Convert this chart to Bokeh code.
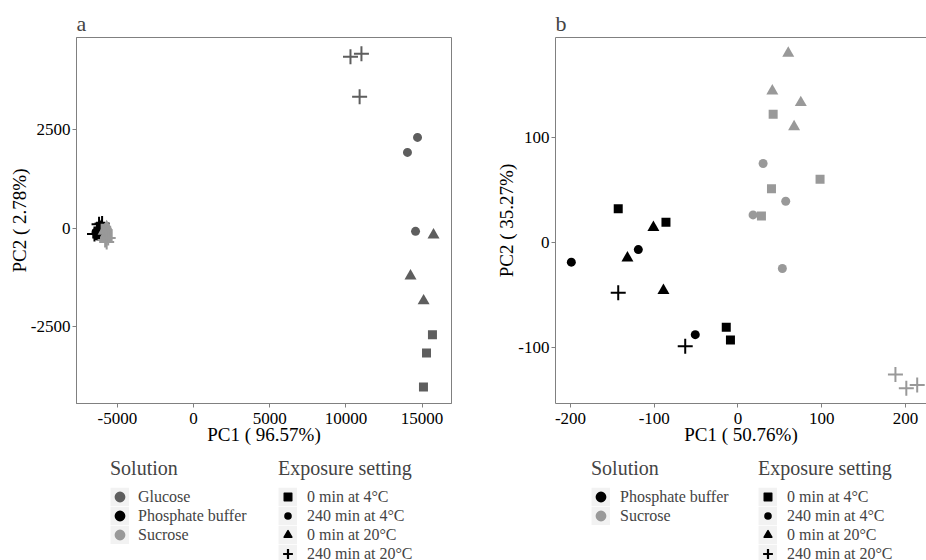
from bokeh.plotting import figure
from bokeh.models import (Range1d, FixedTicker, Legend, LegendItem, LinearAxis,
                          ColumnDataSource)
from bokeh.layouts import row, column
from bokeh.embed import file_html
from bokeh.resources import INLINE

FONT = "Liberation Serif"

# ---------------- data: panel a ----------------
a_solution = (["Glucose"] * 12) + (["Phosphate buffer"] * 12) + (["Sucrose"] * 12)
a_exposure = (["0 min at 4°C"] * 3 + ["240 min at 4°C"] * 3 + ["0 min at 20°C"] * 3 + ["240 min at 20°C"] * 3) * 3
a_pc1 = [15680, 15290, 15090, 14040, 14700, 14570, 15750, 14240, 15100, 10300, 11020, 10900,
         -6100, -6000, -6350, -6400, -6150, -6300, -6050, -6200, -5900, -6500, -6200, -6000,
         -5700, -5600, -5800, -5750, -5650, -5850, -5800, -5700, -5900, -5800, -5700, -5600]
a_pc2 = [-2700, -3160, -4020, 1920, 2300, -80, -170, -1210, -1840, 4340, 4420, 3330,
         50, 0, -150, -100, -50, -200, 60, 20, -20, -150, 100, 120,
         -50, -150, 0, -200, -100, -250, -30, 40, -80, -300, -350, -250]
a_xticks = [-5000, 0, 5000, 10000, 15000]
a_xtick_labels = ["-5000", "0", "5000", "10000", "15000"]
a_yticks = [-2500, 0, 2500]
a_ytick_labels = ["-2500", "0", "2500"]

# ---------------- data: panel b ----------------
b_solution = (["Phosphate buffer"] * 12) + (["Sucrose"] * 15)
b_exposure = (["0 min at 4°C"] * 4 + ["240 min at 4°C"] * 3 + ["0 min at 20°C"] * 3 + ["240 min at 20°C"] * 2
              + ["0 min at 4°C"] * 4 + ["240 min at 4°C"] * 4 + ["0 min at 20°C"] * 4 + ["240 min at 20°C"] * 3)
b_pc1 = [-143, -86, -14, -9, -199, -119, -51, -101, -132, -89, -143, -63,
         42, 98, 40, 28, 30, 57, 18, 53, 60, 41, 75, 67, 188, 201, 214]
b_pc2 = [32, 19, -81, -93, -19, -7, -88, 14, -15, -46, -48, -99,
         122, 60, 51, 25, 75, 39, 26, -25, 180, 144, 133, 110, -126, -139, -136]
b_xticks = [-200, -100, 0, 100, 200]
b_xtick_labels = ["-200", "-100", "0", "100", "200"]
b_yticks = [-100, 0, 100]
b_ytick_labels = ["-100", "0", "100"]

SOL_COLORS = {"Glucose": "#5e5e5e", "Phosphate buffer": "#000000", "Sucrose": "#999999"}
EXPOSURES = ["0 min at 4°C", "240 min at 4°C", "0 min at 20°C", "240 min at 20°C"]
EXPO_MARKER = {"0 min at 4°C": ("square", 9), "240 min at 4°C": ("circle", 9),
               "0 min at 20°C": ("triangle", 12), "240 min at 20°C": ("cross", 15)}
# extra outline used only to enlarge the legend keys
EXPO_KEY_LINE = {"0 min at 4°C": 1.4, "240 min at 4°C": 0.0,
                 "0 min at 20°C": 1.6, "240 min at 20°C": 2.2}
AXIS_GREY = "#808080"
KEY_BG = "#f2f2f2"


def style_axis(ax):
    ax.axis_line_color = AXIS_GREY
    ax.major_tick_line_color = AXIS_GREY
    ax.major_tick_out = 4
    ax.major_tick_in = 0
    ax.minor_tick_line_color = None
    ax.major_label_text_font = FONT
    ax.major_label_text_font_size = "17px"
    ax.major_label_text_color = "#000000"
    ax.axis_label_text_font = FONT
    ax.axis_label_text_font_size = "19px"
    ax.axis_label_text_font_style = "normal"
    ax.axis_label_text_color = "#000000"


def subset(pc1, pc2, sol, expo, s, e):
    xs = [x for x, ss, ee in zip(pc1, sol, expo) if ss == s and ee == e]
    ys = [y for y, ss, ee in zip(pc2, sol, expo) if ss == s and ee == e]
    return xs, ys


def make_panel(letter, pc1, pc2, sol, expo, solutions, xr, yr, xticks, xlabels,
               yticks, ylabels, xlabel, ylabel, border_left, border_right, frame_w, full_box):
    p = figure(frame_width=frame_w, frame_height=366, output_backend="svg",
               toolbar_location=None,
               x_range=Range1d(*xr), y_range=Range1d(*yr),
               min_border_left=border_left, min_border_right=border_right,
               min_border_top=37, min_border_bottom=50)
    p.grid.visible = False
    p.background_fill_color = "white"
    p.border_fill_color = "white"
    p.title.text = letter
    p.title.text_font = FONT
    p.title.text_font_size = "22px"
    p.title.text_font_style = "normal"
    p.title.align = "left"
    p.title.offset = 0
    p.title.standoff = 3

    p.xaxis.ticker = FixedTicker(ticks=xticks)
    p.yaxis.ticker = FixedTicker(ticks=yticks)
    p.xaxis.major_label_overrides = {t: l for t, l in zip(xticks, xlabels)}
    p.yaxis.major_label_overrides = {t: l for t, l in zip(yticks, ylabels)}
    p.xaxis.axis_label = xlabel
    p.yaxis.axis_label = ylabel
    for ax in p.xaxis + p.yaxis:
        style_axis(ax)
    p.xaxis.major_label_standoff = 5
    p.xaxis.axis_label_standoff = -3
    p.yaxis.major_label_standoff = 2
    p.yaxis.axis_label_standoff = -2

    if full_box:
        p.outline_line_color = AXIS_GREY
        p.outline_line_width = 1
    else:
        p.outline_line_color = None
        top = LinearAxis(major_tick_line_color=None, minor_tick_line_color=None,
                         major_label_text_font_size="0px", axis_line_color=AXIS_GREY,
                         major_label_standoff=0, major_tick_out=0, major_tick_in=0,
                         ticker=FixedTicker(ticks=[]))
        p.add_layout(top, "above")

    for s in solutions:
        for e in EXPOSURES:
            xs, ys = subset(pc1, pc2, sol, expo, s, e)
            mk, sz = EXPO_MARKER[e]
            c = SOL_COLORS[s]
            src = ColumnDataSource(dict(x=xs, y=ys))
            if mk == "cross":
                p.scatter("x", "y", source=src, marker=mk, size=sz,
                          line_color=c, line_width=2)
            else:
                p.scatter("x", "y", source=src, marker=mk, size=sz,
                          fill_color=c, line_color=None)
    return p


COMMON = dict(padding=0, margin=0, border_line_color=None, background_fill_alpha=0,
              label_text_font=FONT, label_text_font_size="16px",
              label_text_line_height=1.0,
              title_text_font=FONT, title_text_font_size="20px",
              title_text_font_style="normal", title_standoff=7,
              glyph_width=19, glyph_height=19, label_height=19, spacing=0,
              orientation="vertical", location="top_left")


def legend_fig(width, left, title, labels, kind, pc1, pc2, sol, expo, standoff):
    # legend-only figure: its renderers reuse the panel's data but lie outside
    # the visible range (and have size 0), so only their legend keys show
    f = figure(width=width, height=107, output_backend="svg", toolbar_location=None,
               x_axis_location=None, y_axis_location=None, title_location=None,
               x_range=Range1d(0.3, 0.7), y_range=Range1d(0.3, 0.7),
               min_border_left=left, min_border_right=0, min_border_top=4,
               min_border_bottom=0)
    f.grid.visible = False
    f.outline_line_color = None
    items = []
    for lab in labels:
        if kind == "solution":
            s, e = lab, "240 min at 4°C"
        else:
            s, e = "Phosphate buffer", lab
        xs, ys = subset(pc1, pc2, sol, expo, s, e)
        src = ColumnDataSource(dict(x=xs, y=ys))
        # key background: a thick line fills the whole key box in the legend
        bg = f.line("x", "y", source=src, line_color=KEY_BG, line_width=18.5)
        c = SOL_COLORS[s]
        if kind == "solution":
            r = f.scatter("x", "y", source=src, marker="circle", size=0,
                          fill_color=c, line_color=c, line_width=3.2)
        else:
            mk, _ = EXPO_MARKER[lab]
            lw = EXPO_KEY_LINE[lab]
            if mk == "cross":
                r = f.scatter("x", "y", source=src, marker=mk, size=0,
                              line_color="black", line_width=lw, line_cap="square")
            elif lw > 0:
                r = f.scatter("x", "y", source=src, marker=mk, size=0,
                              fill_color="black", line_color="black", line_width=lw,
                              line_join="round")
            else:
                r = f.scatter("x", "y", source=src, marker=mk, size=0,
                              fill_color="black", line_color=None)
        items.append(LegendItem(label=lab, renderers=[bg, r]))
    leg = Legend(items=items, title=title, label_standoff=standoff, **COMMON)
    f.add_layout(leg, "center")
    return f


pa = make_panel("a", a_pc1, a_pc2, a_solution, a_exposure,
                ["Glucose", "Phosphate buffer", "Sucrose"],
                (-7680, 16930), (-4440, 4830), a_xticks, a_xtick_labels,
                a_yticks, a_ytick_labels,
                "PC1 ( 96.57%)", "PC2 ( 2.78%)", 76, 12, 375, True)
pb = make_panel("b", b_pc1, b_pc2, b_solution, b_exposure,
                ["Phosphate buffer", "Sucrose"],
                (-217.9, 225.1), (-153.6, 195.0), b_xticks, b_xtick_labels,
                b_yticks, b_ytick_labels,
                "PC1 ( 50.76%)", "PC2 ( 35.27%)", 92, 0, 371, False)

la1 = legend_fig(270, 110, "Solution", ["Glucose", "Phosphate buffer", "Sucrose"], "solution",
                 a_pc1, a_pc2, a_solution, a_exposure, 9)
la2 = legend_fig(193, 8, "Exposure setting", EXPOSURES, "exposure",
                 a_pc1, a_pc2, a_solution, a_exposure, 10)
lb1 = legend_fig(282, 128, "Solution", ["Phosphate buffer", "Sucrose"], "solution",
                 b_pc1, b_pc2, b_solution, b_exposure, 10)
lb2 = legend_fig(181, 13, "Exposure setting", EXPOSURES, "exposure",
                 b_pc1, b_pc2, b_solution, b_exposure, 10)

layout = column(row(pa, pb, spacing=0), row(la1, la2, lb1, lb2, spacing=0), spacing=0)
open("out.html", "w").write(file_html(layout, INLINE))
